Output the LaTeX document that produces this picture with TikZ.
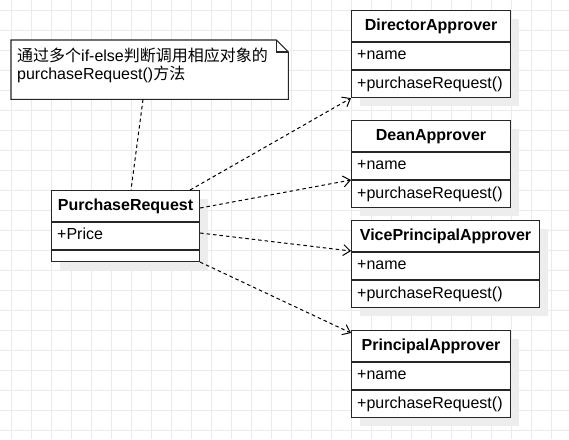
\documentclass[tikz,border=0pt]{standalone}
\usepackage{fontspec}
\setmainfont{Liberation Sans}
\newfontfamily\cjk{Noto Sans CJK SC}
\usetikzlibrary{arrows.meta,calc,shadows}
\tikzset{
  gridline/.style={draw=black!8, line width=1pt},
  classbox/.style={rectangle, draw=black!85, line width=1.1pt, fill=white, inner sep=0pt, anchor=north west,
    general shadow={fill=black!7, shadow xshift=8pt, shadow yshift=-8pt}},
  classline/.style={draw=black!85, line width=1.1pt},
  titletext/.style={anchor=base, inner sep=0pt, font=\fontsize{16}{19}\selectfont\bfseries},
  itemtext/.style={anchor=base west, inner sep=0pt, font=\fontsize{16}{19}\selectfont},
  notebox/.style={rectangle, inner sep=0pt, anchor=north west},
  noteline/.style={draw=black!85, line width=1.1pt},
  dep/.style={draw=black, line width=1pt, dash pattern=on 3.5pt off 3pt,
    -{Straight Barb[length=7pt,width=11pt,line width=1pt]}},
  notelink/.style={draw=black, line width=1pt, dash pattern=on 3.5pt off 3pt},
}
\newcommand\umlclass[7]{%
  \node[classbox, minimum width=#3pt, minimum height=#4pt] (#1) at #2 {};
  \draw[classline] ($(#1.north west)+(0,32)$) -- ($(#1.north east)+(0,32)$);
  \draw[classline] ($(#1.north west)+(0,60)$) -- ($(#1.north east)+(0,60)$);
  \node[titletext] (#1-title) at ($(#1.north)+(0,20.5)$) {#5};
  \node[itemtext] (#1-attr) at ($(#1.north west)+(6,49.3)$) {#6};
  \node[itemtext] (#1-meth) at ($(#1.north west)+(6,78.7)$) {#7};
}
\begin{document}
\begin{tikzpicture}[x=1pt, y=-1pt]
  \useasboundingbox (0,0) rectangle (569,439);
  \fill[white] (0,0) rectangle (569,439);
  % grid
  \foreach \gx in {11,31,...,571} { \draw[gridline] (\gx,0) -- (\gx,439); }
  \foreach \gy in {10,30,...,439} { \draw[gridline] (0,\gy) -- (569,\gy); }

  % note
  \node[notebox, minimum width=277pt, minimum height=59pt] (note) at (11,40) {};
  \draw[noteline, fill=white] (note.north west) -- ($(note.north east)+(-12,0)$)
     -- ($(note.north east)+(0,12)$) -- (note.south east) -- (note.south west) -- cycle;
  \draw[noteline] ($(note.north east)+(-12,0)$) -- ($(note.north east)+(-12,12)$) -- ($(note.north east)+(0,12)$);
  \node[anchor=base west, inner sep=0pt, align=left, font=\fontsize{16}{18.5}\selectfont] (notetext) at (17,79.5)
    {{\cjk 通过多个}if-else{\cjk 判断调用相应对象的}\\purchaseRequest(){\cjk 方法}};

  % PurchaseRequest
  \node[classbox, minimum width=148pt, minimum height=71pt] (pr) at (51,190) {};
  \draw[classline] ($(pr.north west)+(0,32)$) -- ($(pr.north east)+(0,32)$);
  \draw[classline] ($(pr.north west)+(0,60)$) -- ($(pr.north east)+(0,60)$);
  \node[titletext] (pr-title) at ($(pr.north)+(0,20.5)$) {PurchaseRequest};
  \node[itemtext] (pr-attr) at ($(pr.north west)+(6,49.3)$) {+Price};

  \umlclass{da}{(351,10)}{159}{87}{DirectorApprover}{+name}{+purchaseRequest()}
  \umlclass{de}{(351,120)}{159}{87}{DeanApprover}{+name}{+purchaseRequest()}
  \umlclass{vp}{(351,220)}{188}{87}{VicePrincipalApprover}{+name}{+purchaseRequest()}
  \umlclass{pa}{(351,330)}{159}{87}{PrincipalApprover}{+name}{+purchaseRequest()}

  % connectors
  \draw[notelink] ($(note.south west)+(132,0)$) -- ($(pr.north west)+(80,0)$);
  \draw[dep] ($(pr.north east)+(-10,0)$) -- (da.south west);
  \draw[dep] ($(pr.north east)+(0,18)$) -- ($(de.north west)+(0,60)$);
  \draw[dep] ($(pr.north east)+(0,43)$) -- ($(vp.north west)+(0,31)$);
  \draw[dep] (pr.south east) -- ($(pa.north west)+(0,3)$);
\end{tikzpicture}
\end{document}
